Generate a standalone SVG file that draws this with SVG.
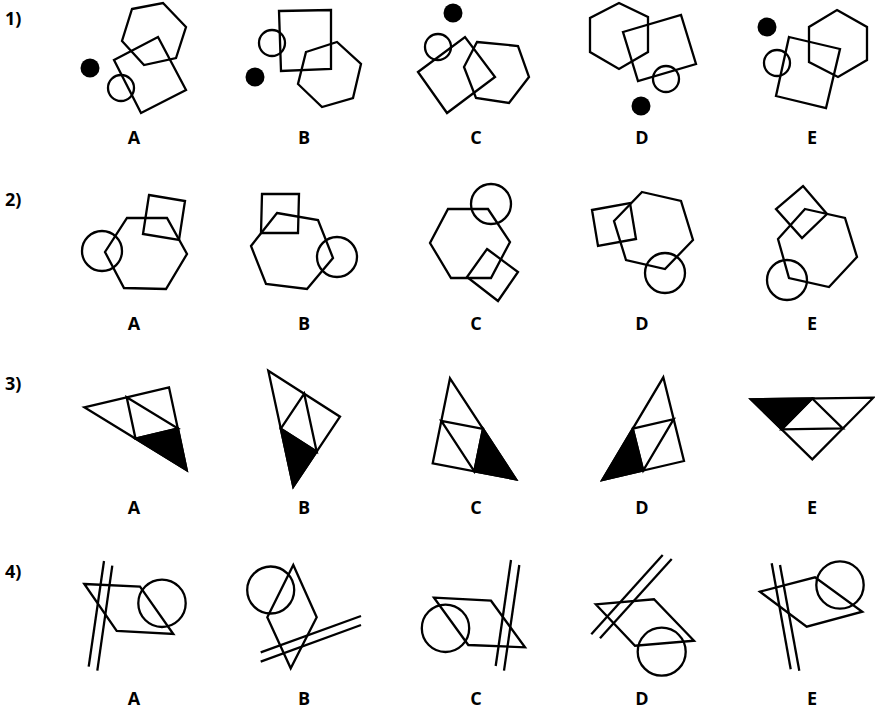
<svg xmlns="http://www.w3.org/2000/svg" width="875" height="715" viewBox="0 0 875 715">
<style>
.s{fill:none;stroke:#000;stroke-width:2.3;stroke-linejoin:miter}
.f{fill:#000;stroke:#000;stroke-width:2.3;stroke-linejoin:miter}
.d{fill:#000}
.t{font-family:"Open Sans","Liberation Sans",sans-serif;font-weight:bold;font-size:18px;fill:#000}
.lab{text-anchor:middle}
</style>
<rect width="875" height="715" fill="#fff"/>
<g id="row-numbers">
<text class="t" x="5" y="25">1)</text>
<text class="t" x="5" y="206">2)</text>
<text class="t" x="5" y="390">3)</text>
<text class="t" x="5" y="578">4)</text>
</g>
<g id="labels">
<text class="t lab" x="134" y="144">A</text><text class="t lab" x="304" y="144">B</text><text class="t lab" x="476" y="144">C</text><text class="t lab" x="642" y="144">D</text><text class="t lab" x="812" y="144">E</text>
<text class="t lab" x="134" y="330">A</text><text class="t lab" x="304" y="330">B</text><text class="t lab" x="476" y="330">C</text><text class="t lab" x="642" y="330">D</text><text class="t lab" x="812" y="330">E</text>
<text class="t lab" x="134" y="514">A</text><text class="t lab" x="304" y="514">B</text><text class="t lab" x="476" y="514">C</text><text class="t lab" x="642" y="514">D</text><text class="t lab" x="812" y="514">E</text>
<text class="t lab" x="134" y="705">A</text><text class="t lab" x="304" y="705">B</text><text class="t lab" x="476" y="705">C</text><text class="t lab" x="642" y="705">D</text><text class="t lab" x="812" y="705">E</text>
</g>
<!-- Row 1 -->
<g id="q1A">
<polygon class="s" points="132,9 163,3 186,27 176,58 144,65 122,41"/>
<polygon class="s" points="114,60 158,37 186,90 141,113"/>
<circle class="s" cx="121" cy="88" r="13"/>
<circle class="d" cx="90" cy="68" r="9.5"/>
</g>
<g id="q1B">
<polygon class="s" points="279,11 331,10 331,69 281,71"/>
<circle class="s" cx="272" cy="43" r="13"/>
<circle class="d" cx="255" cy="77" r="9.5"/>
<polygon class="s" points="306,52 337,42 361,64 353,98 322,107 298,84"/>
</g>
<g id="q1C">
<circle class="d" cx="453" cy="13" r="9.5"/>
<circle class="s" cx="438" cy="47" r="13"/>
<polygon class="s" points="418,72 465,37 495,77 447,113"/>
<polygon class="s" points="477,42 518,46 529,77 509,103 476,98 464,67"/>
</g>
<g id="q1D">
<polygon class="s" points="619,3 648,17 648,52 619,69 590,52 590,18"/>
<polygon class="s" points="623,32 681,15 696,64 638,81"/>
<circle class="s" cx="666" cy="79" r="13"/>
<circle class="d" cx="641" cy="106" r="9.5"/>
</g>
<g id="q1E">
<circle class="d" cx="767" cy="27" r="9.5"/>
<circle class="s" cx="777" cy="63" r="13"/>
<polygon class="s" points="789,37 840,49 826,108 776,96"/>
<polygon class="s" points="837,10 867,27 867,60 838,77 809,62 809,27"/>
</g>
<!-- Row 2 -->
<g id="q2A">
<polygon class="s" points="127,218 167,218 187,254 166,289 124,288 105,252"/>
<polygon class="s" points="149,195 185,201 179,240 143,234"/>
<circle class="s" cx="102" cy="251" r="20"/>
</g>
<g id="q2B">
<polygon class="s" points="262,194 299,194 298,233 261,233"/>
<polygon class="s" points="277,213 318,220 333,258 307,289 266,284 251,246"/>
<circle class="s" cx="337" cy="257" r="20"/>
</g>
<g id="q2C">
<circle class="s" cx="491" cy="204" r="20"/>
<polygon class="s" points="448,209 488,209 510,242 491,278 451,278 430,243"/>
<polygon class="s" points="487,249 518,272 498,301 467,277"/>
</g>
<g id="q2D">
<polygon class="s" points="592,210 630,203 636,239 598,246"/>
<polygon class="s" points="642,192 681,201 693,240 665,269 626,260 614,221"/>
<circle class="s" cx="665" cy="273" r="20"/>
</g>
<g id="q2E">
<polygon class="s" points="803,186 827,214 802,238 776,209"/>
<polygon class="s" points="805,209 845,218 857,257 829,287 789,278 778,239"/>
<circle class="s" cx="787" cy="280" r="20"/>
</g>
<!-- Row 3 -->
<g id="q3A">
<polygon class="f" points="135.5,438.5 178,428.5 186.7,470"/>
<polygon class="s" points="84.3,407.3 169,387.3 186.7,470"/>
<polygon class="s" points="126.7,397.3 178,428.5 135.5,438.5"/>
</g>
<g id="q3B">
<polygon class="f" points="280.8,428.7 316.7,451.7 293.3,486.7"/>
<polygon class="s" points="268.3,370.7 340,416.7 293.3,486.7"/>
<polygon class="s" points="304.2,393.7 316.7,451.7 280.8,428.7"/>
</g>
<g id="q3C">
<polygon class="f" points="483,428.8 474.3,471.3 516,479.3"/>
<polygon class="s" points="450,378.3 516,479.3 432.7,463.3"/>
<polygon class="s" points="483,428.8 474.3,471.3 441.3,420.8"/>
</g>
<g id="q3D">
<polygon class="f" points="632.8,428.7 643.2,470.5 602.3,480"/>
<polygon class="s" points="663.3,377.3 684,461 602.3,480"/>
<polygon class="s" points="673.7,419.2 643.2,470.5 632.8,428.7"/>
</g>
<g id="q3E">
<polygon class="f" points="751,399.3 812.2,398.5 781.7,429.3"/>
<polygon class="s" points="751,399.3 873.3,397.7 812.3,459.3"/>
<polygon class="s" points="812.2,398.5 842.8,428.5 781.7,429.3"/>
</g>
<!-- Row 4 -->
<g id="q4A">
<polygon class="s" points="84.3,584 140,586.7 173.3,634 116.7,631"/>
<circle class="s" cx="162" cy="603.3" r="23.7"/>
<line class="s" x1="104" y1="561" x2="88.7" y2="666.7"/>
<line class="s" x1="112.3" y1="565.7" x2="97.3" y2="670.7"/>
</g>
<g id="q4B">
<circle class="s" cx="270.7" cy="590" r="23.5"/>
<polygon class="s" points="293.3,565 316.7,617.3 290.7,668.3 267.3,617.3"/>
<line class="s" x1="260.7" y1="652.3" x2="361" y2="616"/>
<line class="s" x1="260.7" y1="661.7" x2="361" y2="625"/>
</g>
<g id="q4C">
<polygon class="s" points="434,597.7 491,600.7 525,647.3 468.3,645"/>
<circle class="s" cx="445.5" cy="628.3" r="23.7"/>
<line class="s" x1="511" y1="560" x2="495.7" y2="666"/>
<line class="s" x1="519.3" y1="565" x2="504" y2="670.7"/>
</g>
<g id="q4D">
<line class="s" x1="662.7" y1="555" x2="591.3" y2="634.3"/>
<line class="s" x1="671.7" y1="559" x2="600" y2="638.3"/>
<polygon class="s" points="595.7,604.3 654,599.3 694,640.7 635,645.7"/>
<circle class="s" cx="661.7" cy="651.7" r="24"/>
</g>
<g id="q4E">
<line class="s" x1="771.7" y1="563.3" x2="790.7" y2="669.3"/>
<line class="s" x1="780" y1="565" x2="799.3" y2="670.7"/>
<polygon class="s" points="760,591.7 815,577.3 862.3,611.7 806.7,626.7"/>
<circle class="s" cx="840" cy="585" r="23.7"/>
</g>
</svg>
